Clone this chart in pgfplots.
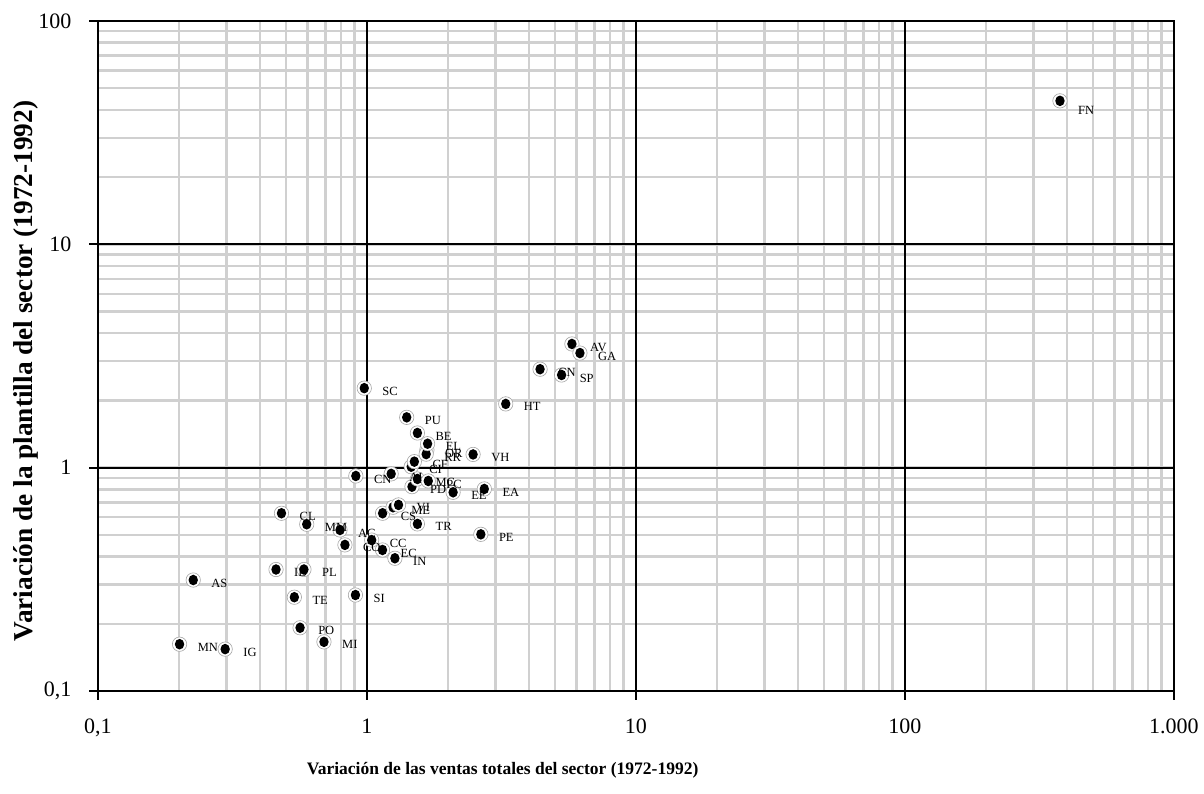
\documentclass[border=0pt]{standalone}
\usepackage{pgfplots}
\pgfplotsset{compat=1.18}
\usepackage{pgfplotstable}
\usepackage{fontspec}
\setmainfont{Liberation Serif}
\definecolor{mgrid}{RGB}{208,208,208}
\definecolor{halo}{RGB}{165,165,165}
\pgfdeclareplotmark{halo}{%
  \pgfpathcircle{\pgfpointorigin}{7.2pt}%
  \pgfsetfillcolor{white}\pgfsetstrokecolor{halo}\pgfsetlinewidth{0.6pt}%
  \pgfusepath{fill,stroke}%
  \pgfpathellipse{\pgfpointorigin}{\pgfqpoint{4.7pt}{0pt}}{\pgfqpoint{0pt}{5.3pt}}%
  \pgfsetfillcolor{black}\pgfusepath{fill}}
\pgfplotstableread{
x y lab dy
0.201 0.162 MN 3
0.297 0.154 IG 3
0.226 0.314 AS 3
0.459 0.350 ID 3
0.583 0.350 PL 3
0.537 0.263 TE 3
0.906 0.269 SI 3
0.564 0.192 PO 3
0.692 0.166 MI 3
0.481 0.625 CL 3
0.597 0.558 MM 3
0.794 0.526 AC 3
0.828 0.451 CO 3
1.041 0.474 CC 3
1.142 0.428 EC 3
1.27 0.393 IN 3
1.143 0.625 CS 3
1.25 0.665 ME 3
1.31 0.681 VI 3
1.54 0.560 TR 3
2.65 0.503 PE 3
0.909 0.918 CN 3
1.23 0.938 AI 3
1.46 1.01 CI 3
1.50 1.064 CF 3
1.47 0.822 PD 3
1.54 0.890 MC 3
1.69 0.872 PC 3
2.09 0.776 EE 3
2.73 0.803 EA 3
1.67 1.20 OR 3
1.66 1.15 RR 3
1.68 1.28 EL 3
1.54 1.43 BE 3
1.405 1.68 PU 3
0.977 2.27 SC 3
2.48 1.146 VH 3
3.28 1.93 HT 3
5.29 2.60 SP 3
4.40 2.76 CN 3
5.78 3.58 AV 3
6.19 3.26 GA 3
377 43.9 FN 10
}\data
\begin{document}
\begin{tikzpicture}
\begin{axis}[
  scale only axis, width=1076pt, height=670pt,
  xmode=log, ymode=log,
  xmin=0.1, xmax=1000, ymin=0.1, ymax=100,
  xtick={0.1,1,10,100,1000}, xticklabels={{0,1},1,10,100,{1.000}},
  ytick={0.1,1,10,100}, yticklabels={{0,1},1,10,100},
  tick pos=left, tick align=outside,
  major tick length=9pt, minor tick length=0pt,
  every tick/.style={black, line width=2pt},
  grid=minor,
  minor grid style={mgrid, line width=2.5pt},
  extra x ticks={1,10,100}, extra y ticks={1,10},
  extra x tick labels={}, extra y tick labels={},
  extra tick style={grid=major, major grid style={black, line width=2.2pt}, major tick length=0pt},
  axis line style={black, line width=2.6pt},
  tick label style={font=\fontsize{22}{24}\selectfont},
  xticklabel style={yshift=-15pt},
  yticklabel style={xshift=-14pt},
  xlabel={Variación de las ventas totales del sector (1972-1992)},
  ylabel={Variación de la plantilla del sector (1972-1992)},
  xlabel style={at={(axis description cs:0.376,-0.1179)}, anchor=center,
    font=\fontsize{17.5}{20}\selectfont\bfseries},
  ylabel style={at={(axis description cs:-0.0669,0.4776)}, anchor=center,
    font=\fontsize{27.3}{30}\selectfont\bfseries},
  clip=false,
]
\addplot[only marks, mark=halo] table[x=x, y=y]{\data};
\addplot[only marks, mark=none, nodes near coords, point meta=explicit symbolic,
  visualization depends on={\thisrow{dy} \as \dy},
  nodes near coords style={anchor=west, xshift=18pt, yshift=-\dy pt, inner sep=0pt,
    font=\fontsize{12.5}{14}\selectfont, text=black}]
  table[x=x, y=y, meta=lab]{\data};
\end{axis}
\pgfresetboundingbox
\path[use as bounding box] (-98pt,-103pt) rectangle (1106pt,691pt);
\end{tikzpicture}
\end{document}
